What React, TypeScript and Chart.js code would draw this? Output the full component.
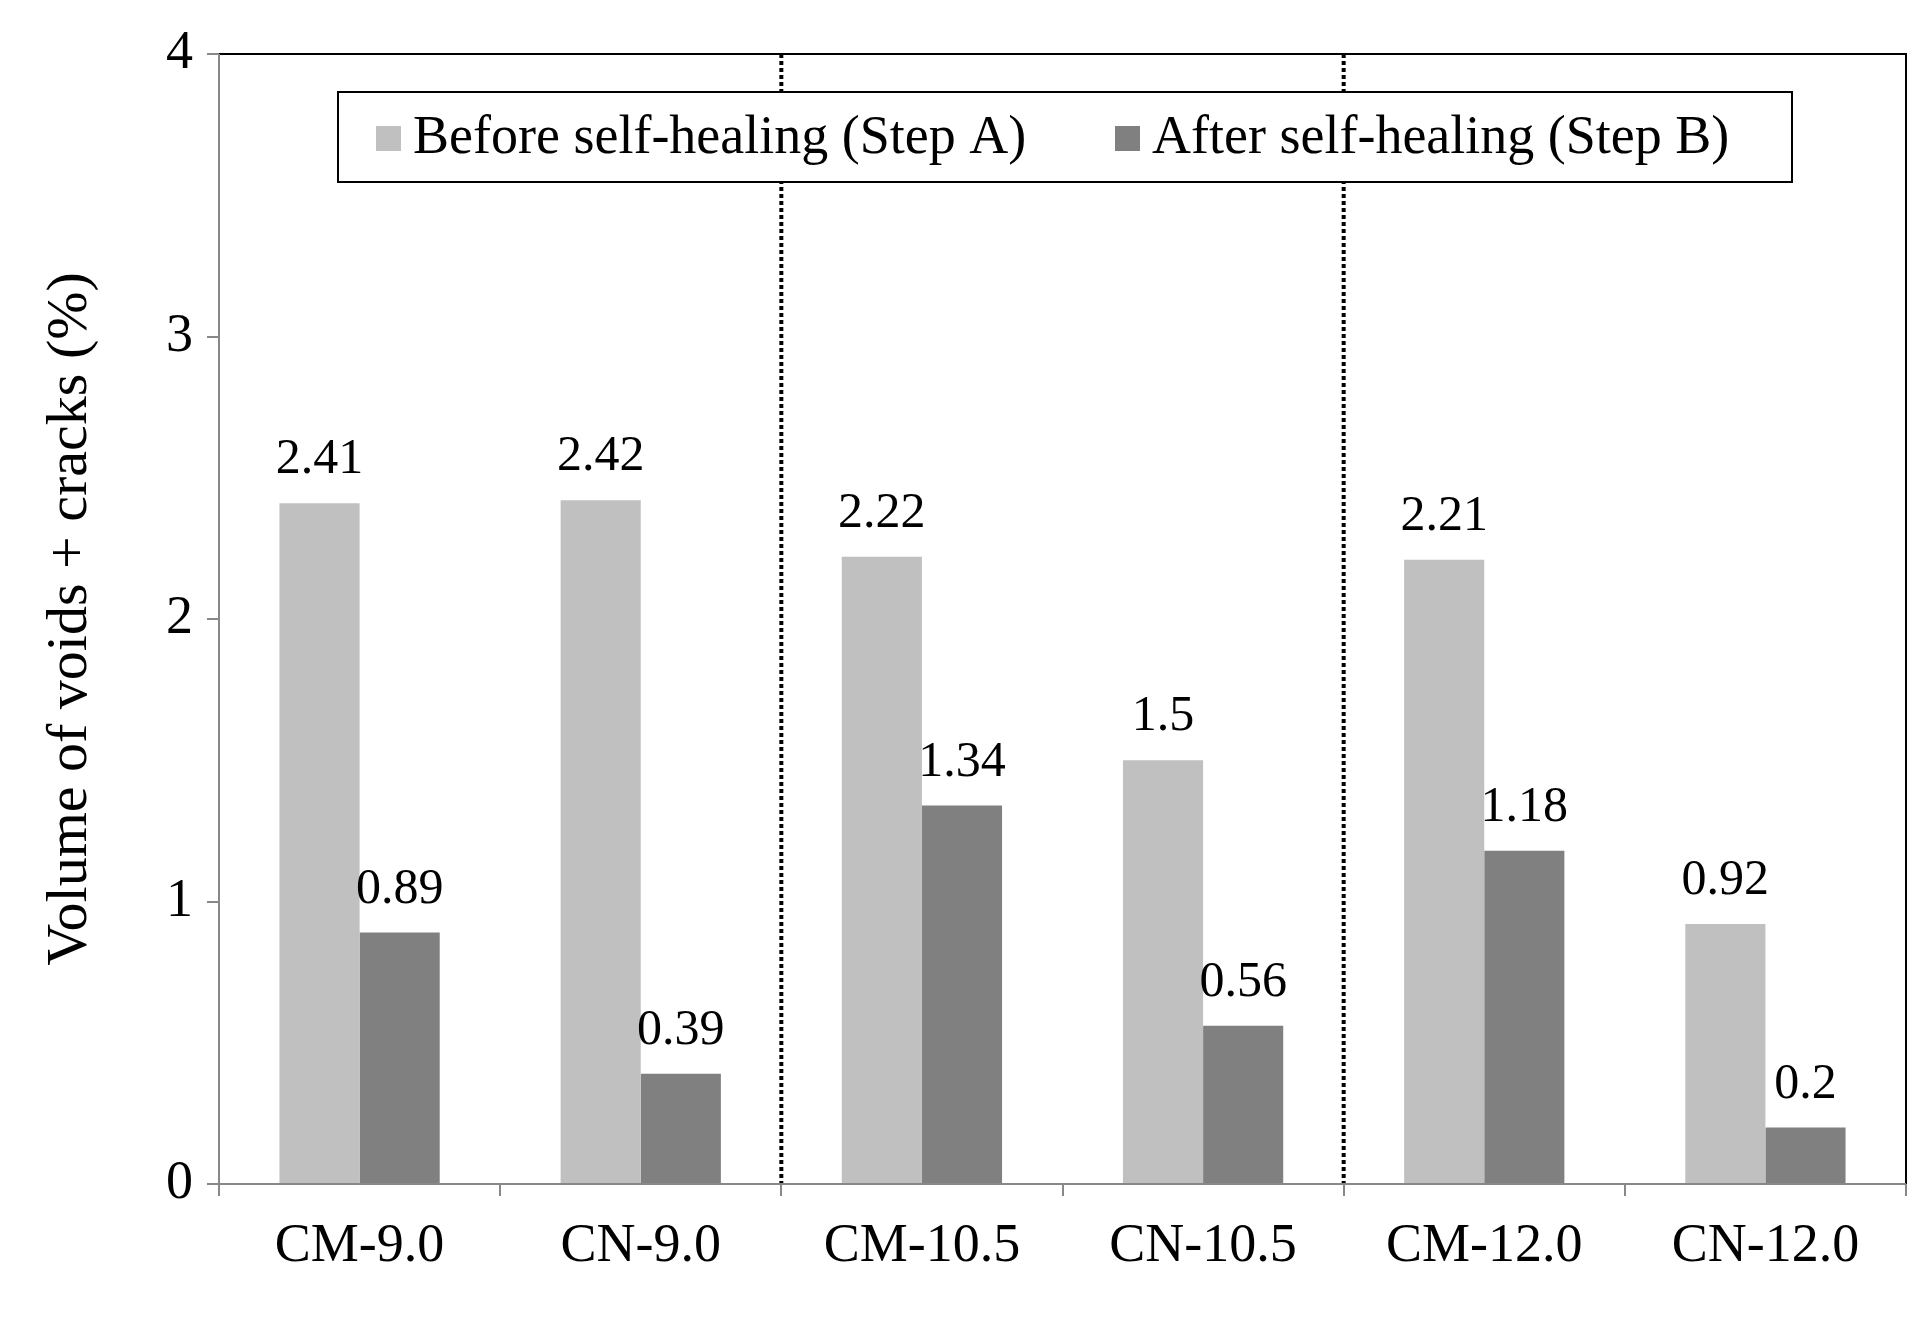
import React, { useEffect, useRef } from "react";
import { Chart, registerables } from "chart.js";
Chart.register(...registerables);

const categories = ["CM-9.0", "CN-9.0", "CM-10.5", "CN-10.5", "CM-12.0", "CN-12.0"];
const beforeValues = [2.41, 2.42, 2.22, 1.5, 2.21, 0.92];
const afterValues = [0.89, 0.39, 1.34, 0.56, 1.18, 0.2];
const seriesNames = ["Before self-healing (Step A)", "After self-healing (Step B)"];
const FONT = "'Liberation Serif', 'DejaVu Serif', serif";

const overlay = {
  id: "overlay",
  afterDatasetsDraw(chart: any) {
    const { ctx, chartArea: a, scales } = chart;
    ctx.save();
    const xs = scales.x;
    ctx.strokeStyle = "#000";
    ctx.lineWidth = 4;
    ctx.setLineDash([4, 3]);
    [1.5, 3.5].forEach((v) => {
      const x = (xs.getPixelForValue(v - 0.5) + xs.getPixelForValue(v + 0.5)) / 2;
      ctx.beginPath();
      ctx.moveTo(x, a.top);
      ctx.lineTo(x, a.bottom);
      ctx.stroke();
    });
    ctx.setLineDash([]);
    ctx.lineWidth = 2;
    ctx.strokeStyle = "#000";
    ctx.beginPath();
    ctx.moveTo(a.left, a.top);
    ctx.lineTo(a.right, a.top);
    ctx.lineTo(a.right, a.bottom);
    ctx.stroke();
    ctx.strokeStyle = "#888";
    ctx.beginPath();
    ctx.moveTo(a.left, a.top);
    ctx.lineTo(a.left, a.bottom);
    ctx.lineTo(a.right, a.bottom);
    ctx.stroke();
    ctx.fillStyle = "#000";
    ctx.font = `50px ${FONT}`;
    ctx.textAlign = "center";
    ctx.textBaseline = "bottom";
    chart.data.datasets.forEach((ds: any, di: number) => {
      chart.getDatasetMeta(di).data.forEach((bar: any, i: number) => {
        ctx.fillText(String(ds.data[i]), bar.x, bar.y - 18);
      });
    });
    ctx.fillStyle = "#fff";
    ctx.fillRect(338, 92, 1454, 90);
    ctx.strokeStyle = "#000";
    ctx.lineWidth = 2;
    ctx.strokeRect(338, 92, 1454, 90);
    ctx.font = `54px ${FONT}`;
    ctx.textAlign = "left";
    ctx.textBaseline = "middle";
    const cols = ["#c0c0c0", "#808080"];
    const sx = [376, 1115];
    seriesNames.forEach((n, k) => {
      ctx.fillStyle = cols[k];
      ctx.fillRect(sx[k], 126, 25, 25);
      ctx.fillStyle = "#000";
      ctx.fillText(n, sx[k] + 37, 139);
    });
    ctx.restore();
  },
};

export default function App() {
  const ref = useRef<HTMLCanvasElement>(null);
  useEffect(() => {
    const chart = new Chart(ref.current!, {
      type: "bar",
      data: {
        labels: categories,
        datasets: [
          { label: seriesNames[0], data: beforeValues, backgroundColor: "#c0c0c0" },
          { label: seriesNames[1], data: afterValues, backgroundColor: "#808080" },
        ],
      },
      options: {
        animation: false,
        responsive: false,
        layout: { padding: { top: 54, right: 22, left: 0, bottom: 0 } },
        datasets: { bar: { barPercentage: 1, categoryPercentage: 0.57 } } as any,
        plugins: { legend: { display: false }, tooltip: { enabled: false } },
        scales: {
          x: {
            grid: { display: true, drawOnChartArea: false, offset: true, tickLength: 12, color: "#888", lineWidth: 2 },
            border: { display: false },
            ticks: { font: { family: FONT, size: 54 }, color: "#000", padding: 18 },
            afterFit: (s: any) => { s.height = 138; },
          },
          y: {
            min: 0,
            max: 4,
            grid: { display: true, drawOnChartArea: false, tickLength: 12, color: "#888", lineWidth: 2 },
            border: { display: false },
            ticks: { stepSize: 1, font: { family: FONT, size: 54 }, color: "#000", padding: 14 },
            title: { display: true, text: "Volume of voids + cracks (%)", font: { family: FONT, size: 58 }, color: "#000", padding: { top: 36, bottom: 0 } },
            afterFit: (s: any) => { s.width = 219; },
          },
        },
      },
      plugins: [overlay],
    });
    return () => chart.destroy();
  }, []);
  return (
    <div style={{ position: "absolute", left: 0, top: 0, width: 1928, height: 1322, background: "#fff" }}>
      <canvas ref={ref} width={1928} height={1322} />
    </div>
  );
}
